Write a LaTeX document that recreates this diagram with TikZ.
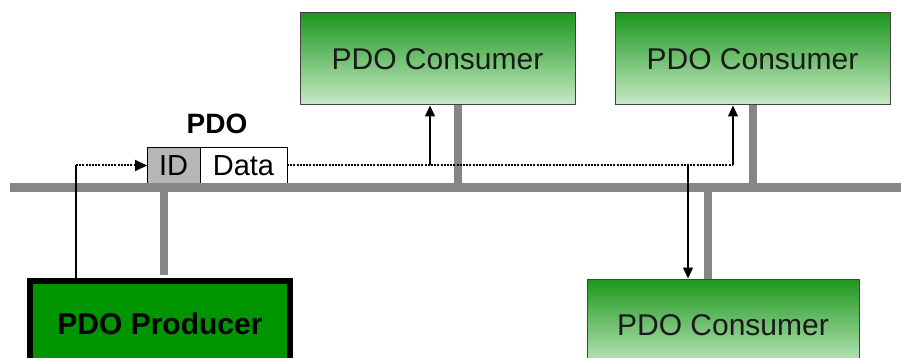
\documentclass[tikz,border=0pt]{standalone}
\usepackage{fontspec}
\setmainfont{Liberation Sans}
\usetikzlibrary{arrows.meta,positioning,calc}
\definecolor{BusGray}{HTML}{868686}
\definecolor{ConsTop}{HTML}{1C981C}
\definecolor{ConsLow}{HTML}{C8EAC8}
\definecolor{ProdGreen}{HTML}{009400}
\definecolor{IdGray}{HTML}{B6B6B6}
\definecolor{TextDark}{HTML}{1A1A1A}

\begin{document}
\begin{tikzpicture}[x=1pt,y=-1pt,
  consumer/.style={draw=black!75,line width=1pt,top color=ConsTop,bottom color=ConsLow,
    minimum width=275pt,minimum height=92pt,inner sep=0pt,text=TextDark,
    font=\fontsize{30}{36}\selectfont},
  producer/.style={draw=black,line width=6pt,fill=ProdGreen,minimum width=260pt,
    minimum height=86pt,inner sep=0pt,font=\fontsize{30}{36}\selectfont\bfseries},
  field/.style={draw=black,line width=1pt,minimum height=35pt,inner sep=0pt,outer sep=0pt,
    font=\fontsize{29}{32}\selectfont},
  bus/.style={BusGray,line width=9pt},
  stub/.style={BusGray,line width=8pt},
  sig/.style={black,line width=1.3pt},
  dot/.style={black,line width=2pt,dash pattern=on 2pt off 1.2pt},
  tip/.style={sig,-{Triangle[length=11pt,width=10pt]}}]
  \useasboundingbox (0,0) rectangle (901,358);
  \clip (0,0) rectangle (901,358);

  % devices
  \node[consumer] (cons1) at (437.5,59) {PDO Consumer};
  \node[consumer] (cons2) at (752.5,59) {PDO Consumer};
  \node[consumer,minimum width=272pt] (cons3) at (723,325) {PDO Consumer};
  \node[producer] (prod) at (160,324) {PDO Producer};

  % the telegram
  \node[field,fill=IdGray,minimum width=53pt] (id) at (173.5,165.5) {ID};
  \node[field,fill=white,minimum width=87pt,right=0pt of id] (data) {Data};
  \node[inner sep=0pt,anchor=south,font=\fontsize{28}{32}\selectfont\bfseries]
    (pdo) at ($(id.north west)!0.5!(data.north east)+(0,-14)$) {PDO};

  % bus and stubs
  \coordinate (busL) at (10,187.5);
  \coordinate (busR) at (901,187.5);
  \draw[bus] (busL) -- (busR);
  \coordinate (s1) at ($(cons1.south)+(20,0)$);
  \coordinate (s2) at (cons2.south);
  \coordinate (s3) at ($(cons3.north)+(-15.5,0)$);
  \coordinate (s0) at ($(prod.north)+(4,-3)$);
  \draw[stub] (s1) -- (s1 |- busL);
  \draw[stub] (s2) -- (s2 |- busL);
  \draw[stub] (s3) -- (s3 |- busL);
  \draw[stub] (s0) -- (s0 |- busL);

  % transmission
  \coordinate (out0) at ($(prod.north)+(-84,0)$);
  \coordinate (in1) at ($(cons1.south)+(-7.5,0)$);
  \coordinate (in2) at ($(cons2.south)+(-19.5,0)$);
  \coordinate (in3) at ($(cons3.north)+(-35,0)$);
  \draw[sig] (out0) -- (out0 |- id.west);
  \draw[dot,-{Triangle[length=12pt,width=11pt]}] (out0 |- id.west) -- (id.west);
  \draw[dot] (data.east) -- (data.east -| in2);
  \draw[tip] (data.east -| in1) -- (in1);
  \draw[tip] (data.east -| in2) -- (in2);
  \draw[tip] (data.east -| in3) -- (in3);
\end{tikzpicture}
\end{document}
